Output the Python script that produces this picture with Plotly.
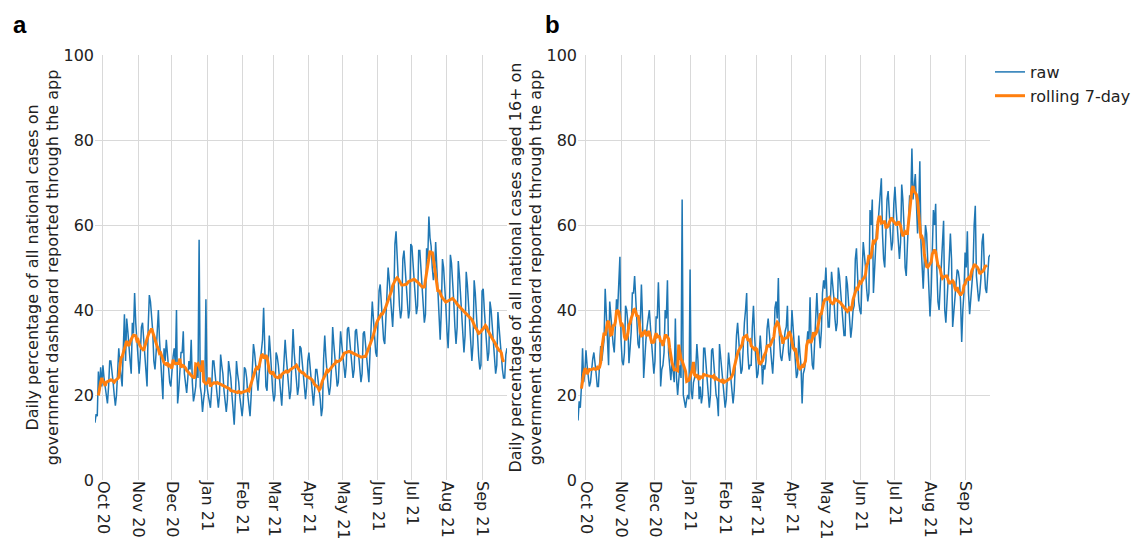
import pandas as pd
import plotly.graph_objects as go

START_DATE = "2020-09-24"

raw_a = [
    13.5, 15.5, 15, 25.5, 21, 26.5, 22,
    27, 24, 22, 20, 18, 22, 28,
    28, 26, 23, 20, 17.5, 20, 26.5,
    31, 27, 25, 22, 31, 39, 28,
    38, 35, 30, 28, 25, 37, 34.5,
    44, 37, 33, 27, 25, 29, 36,
    37, 33, 30, 26, 22, 36, 43.5,
    42, 39, 35, 28, 26, 30, 34.5,
    40, 33, 28, 24, 19, 31, 28,
    33, 30, 26, 23, 22, 26, 29,
    31, 27, 40, 18, 21, 26, 30,
    30, 35, 25, 22, 20.5, 24, 28,
    26, 33, 23, 18.5, 20, 22, 27,
    24, 56.5, 22, 20, 16, 19, 21,
    42.5, 22, 20, 18, 17, 21, 28,
    28, 25, 22, 19, 17, 20, 29.5,
    27, 25, 21, 18, 16, 19, 28,
    26, 24, 20, 17, 13, 19, 28,
    25, 23, 19.5, 16.5, 15, 18, 26.5,
    26, 24, 20, 17, 15, 20, 25,
    32, 30, 27, 23, 21, 25, 27.5,
    30, 33, 40.5, 28, 22, 21, 27,
    34, 30, 25, 21, 18.5, 20, 30,
    29, 27, 24, 21, 17.5, 23, 28.5,
    33, 29, 25, 22, 19, 21, 29.5,
    35.5, 30, 27, 23, 20, 22, 31.5,
    31, 28, 24, 21, 19, 22, 28,
    30, 27, 23, 20, 17.5, 21, 26,
    26, 24, 21, 19, 15, 17, 28.5,
    34, 29, 25, 22, 20, 22, 26.5,
    36, 32, 28, 24, 22, 23, 31,
    35, 32, 29, 26, 24, 27, 35.5,
    36, 33, 30, 26, 24, 26, 35,
    35.5, 32, 28, 25, 23, 25, 34.5,
    35, 32, 29, 25, 23, 30, 36,
    42, 38, 34, 30, 29, 38, 44.5,
    46, 42, 38, 33, 32, 38, 47.5,
    50, 47, 43, 38, 36, 42, 55.5,
    58.5, 52, 46, 41, 38, 40, 52,
    54, 50, 46, 42, 38, 40, 55.5,
    55, 51, 47, 42, 39, 41, 54,
    54, 49, 45, 40, 37, 39, 54.5,
    52, 62, 57, 55, 50, 47, 49,
    56, 50, 44, 38, 33, 40, 52,
    50, 46, 41, 35, 31, 38, 53,
    51, 47, 42, 36, 32, 36, 51.5,
    48, 44, 40, 35, 30, 34, 49,
    46, 42, 38, 33, 28, 32, 47,
    44, 38, 33, 29, 26, 27, 44.5,
    45, 40, 36, 31, 28, 30, 42,
    40, 36, 32, 28, 25, 27, 39.5,
    36, 32, 28, 26, 24, 24, 29.5,
    31,
]

raw_b = [
    14, 18.5, 17, 22, 31, 23, 25,
    30.5, 27, 24, 22, 23, 27, 28.5,
    30, 28, 25, 22, 22, 27, 31.5,
    28, 30, 33, 45, 40, 35, 27,
    42, 38, 35, 32, 30, 36, 42.5,
    40, 45, 52.5, 33, 28, 27, 30,
    41, 40, 37, 27.5, 31, 35, 44,
    44, 48, 42, 36, 32, 31, 36.5,
    46, 38, 24, 30, 33, 36, 38,
    40, 36, 32, 28, 25, 28, 38.5,
    38, 46.5, 38, 22, 26, 27, 30,
    40, 38, 47, 30, 26, 23.5, 28,
    25, 23, 38, 24, 20, 24, 27,
    24, 66, 20, 18, 17, 19, 20,
    19, 49.5, 21, 19, 23, 24, 26,
    32, 28, 19, 22, 18, 20, 31,
    31, 28, 24, 21, 17, 20, 30.5,
    31, 27, 24, 20, 19, 15, 32,
    29, 26, 23, 20, 17, 19, 27,
    30, 27, 24, 21, 18, 21, 30.5,
    34, 37, 33, 28, 25, 26, 34,
    37, 40, 44, 30, 26, 27, 27,
    36, 41, 34, 28, 24, 25, 29,
    34, 30, 22.5, 27, 26, 28, 35.5,
    38, 34, 32, 28, 25, 30, 40.5,
    42, 38, 47.5, 33, 29, 28, 30.5,
    33, 35, 36, 41, 30, 28, 32,
    40, 36, 31, 27, 24, 25, 34,
    30, 27, 18, 25, 26, 28, 31.5,
    35, 33, 43, 32, 27, 26, 31.5,
    40, 44, 38, 34, 31, 35, 44,
    47, 45, 50, 40, 36, 36, 43.5,
    49, 46, 43, 38, 35, 37, 50,
    48, 45, 41, 37, 34, 34, 48,
    46, 42, 40, 33.5, 36, 40, 41,
    52, 54.5, 46, 42, 40, 39, 48.5,
    56, 53, 50, 45, 42, 44, 63.5,
    60, 66, 44, 50, 52, 60, 60,
    64, 68, 71, 58, 52, 50, 60.5,
    66, 68, 62, 58, 54, 56, 65,
    69, 64, 60, 55, 52, 56, 69.5,
    66, 60, 50, 48, 55, 60, 67,
    66, 78, 66, 70, 72, 65, 58,
    64, 75, 56, 48, 45, 52, 60,
    58, 52, 46, 38.5, 44, 55, 63.5,
    60, 65, 50, 42, 40, 45, 51.5,
    58, 61, 40, 37, 42, 46, 52,
    58, 52, 36, 40, 42, 48, 49.5,
    49, 47, 42, 32.5, 40, 44, 53.5,
    50, 58.5, 44, 39, 42, 46, 49.5,
    60, 64.5, 48, 44, 42, 44, 47.5,
    56, 58, 50, 45, 44, 48, 52.5,
    53,
]

Y_TITLE_A = "Daily percentage of all national cases on<br>government dashboard reported through the app"
Y_TITLE_B = "Daily percentage of all national cases aged 16+ on<br>government dashboard reported through the app"
PANEL_LABELS = ["a", "b"]
SERIES_NAMES = ["raw", "rolling 7-day"]

dates = pd.date_range(START_DATE, periods=len(raw_a), freq="D")
roll_a = pd.Series(raw_a).rolling(7, center=True).mean()
roll_b = pd.Series(raw_b).rolling(7, center=True).mean()

BLUE = "#1f77b4"
ORANGE = "#ff7f0e"
FONT = "DejaVu Sans"

fig = go.Figure()
for i, (raw, roll) in enumerate([(raw_a, roll_a), (raw_b, roll_b)]):
    xa = "x" if i == 0 else "x2"
    ya = "y" if i == 0 else "y2"
    fig.add_trace(go.Scatter(x=dates, y=raw, mode="lines", name=SERIES_NAMES[0],
                             line=dict(color=BLUE, width=1.5), xaxis=xa, yaxis=ya,
                             showlegend=(i == 0)))
    fig.add_trace(go.Scatter(x=dates, y=roll, mode="lines", name=SERIES_NAMES[1],
                             line=dict(color=ORANGE, width=3), xaxis=xa, yaxis=ya,
                             showlegend=(i == 0)))

grid = "#d9d9d9"
xcommon = dict(showgrid=True, gridcolor=grid, gridwidth=1, zeroline=False, showline=False,
               tickformat="%b %y", dtick="M1", tick0="2020-10-01", tickangle=90,
               ticks="", automargin=False, tickfont=dict(size=16, color="#222"))
ycommon = dict(showgrid=True, gridcolor=grid, gridwidth=1, zeroline=False, showline=False,
               range=[0, 100], dtick=20, ticks="", automargin=False,
               tickfont=dict(size=16, color="#222"))

fig.update_layout(
    width=1135, height=545,
    margin=dict(l=95, r=145, t=55, b=65, autoexpand=False),
    paper_bgcolor="white", plot_bgcolor="white",
    font=dict(family=FONT, size=16, color="#222"),
    xaxis=dict(domain=[0, 0.4603], anchor="y", **xcommon),
    xaxis2=dict(domain=[0.5397, 1], anchor="y2", **xcommon),
    yaxis=dict(anchor="x", title=dict(text=Y_TITLE_A, standoff=0,
                                      font=dict(size=16, color="#222")), **ycommon),
    yaxis2=dict(anchor="x2", title=dict(text=Y_TITLE_B, standoff=0,
                                        font=dict(size=16, color="#222")), **ycommon),
    legend=dict(font=dict(size=16), bgcolor="rgba(0,0,0,0)", tracegroupgap=0,
                x=1.0, xanchor="left", y=1.0, yanchor="top"),
    annotations=[
        dict(text="<b>%s</b>" % PANEL_LABELS[0], xref="paper", yref="paper", x=-0.094, y=1.072,
             xanchor="left", yanchor="middle", showarrow=False,
             font=dict(family="Liberation Sans", size=24, color="black")),
        dict(text="<b>%s</b>" % PANEL_LABELS[1], xref="paper", yref="paper", x=0.5005, y=1.072,
             xanchor="left", yanchor="middle", showarrow=False,
             font=dict(family="Liberation Sans", size=24, color="black")),
    ],
)

fig.write_html("out.html")
